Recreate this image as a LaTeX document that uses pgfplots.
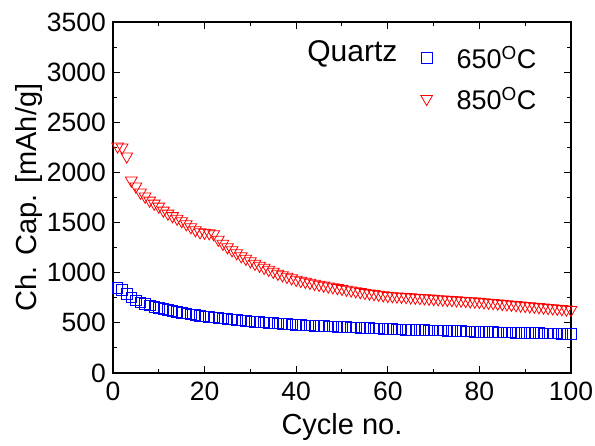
\documentclass[border=0pt]{standalone}
\usepackage{fontspec}
\setmainfont{Liberation Sans}
\usepackage{pgfplots}
\pgfplotsset{compat=1.18}
\usepackage{pgfplotstable}

\pgfplotstableread{
c v
1 850
2 830
3 790
4 755
5 725
6 705
7 690
8 675
9 662
10 650
11 640
12 630
13 620
14 610
15 602
16 594
17 586
18 578
19 570
20 563
21 558
22 553
23 548
24 543
25 538
26 533
27 528
28 524
29 520
30 516
31 512
32 508
33 504
34 500
35 497
36 494
37 491
38 488
39 485
40 482
41 479
42 476
43 474
44 472
45 470
46 468
47 466
48 464
49 462
50 460
51 458
52 456
53 454
54 452
55 450
56 448
57 446
58 444
59 442
60 440
61 438
62 436
63 434
64 432
65 430
66 429
67 428
68 427
69 426
70 425
71 424
72 423
73 422
74 421
75 420
76 418
77 416
78 414
79 412
80 410
81 409
82 408
83 407
84 406
85 405
86 404
87 403
88 402
89 401
90 400
91 399
92 398
93 397
94 396
95 395
96 394
97 393
98 392
99 391
100 390
}\blue

\pgfplotstableread{
c v
1 2260
2 2250
3 2160
4 1920
5 1860
6 1800
7 1760
8 1720
9 1690
10 1660
11 1620
12 1590
13 1565
14 1540
15 1515
16 1485
17 1455
18 1425
19 1405
20 1400
21 1395
22 1385
23 1330
24 1290
25 1255
26 1225
27 1195
28 1165
29 1140
30 1115
31 1090
32 1070
33 1050
34 1030
35 1010
36 990
37 975
38 960
39 945
40 930
41 920
42 910
43 900
44 890
45 880
46 872
47 864
48 856
49 848
50 840
51 832
52 824
53 816
54 808
55 800
56 794
57 788
58 782
59 776
60 770
61 767
62 764
63 761
64 758
65 755
66 752
67 749
68 746
69 743
70 740
71 737
72 734
73 731
74 728
75 725
76 722
77 719
78 716
79 713
80 710
81 706
82 702
83 698
84 694
85 690
86 686
87 682
88 678
89 674
90 670
91 666
92 662
93 658
94 654
95 650
96 646
97 642
98 638
99 634
100 630
}\red

\begin{document}
\begin{tikzpicture}
\useasboundingbox (-113pt,-73pt) rectangle (482pt,373pt);
\begin{axis}[
  at={(0,0)}, anchor=south west,
  width=458pt, height=351pt, scale only axis,
  xmin=0, xmax=100, ymin=0, ymax=3500,
  xtick={0,20,...,100}, ytick={0,500,...,3500},
  minor x tick num=1, minor y tick num=1,
  tick align=inside,
  major tick length=7pt, minor tick length=4pt,
  axis line style={line width=1.2pt},
  every tick/.style={black, line width=1pt},
  /pgf/number format/.cd, 1000 sep={}, assume math mode=true, /pgfplots/.cd,
  ticklabel style={font=\fontsize{26.5}{26.5}\selectfont, inner sep=0pt},
  yticklabel shift=7pt,
  xticklabel shift=9pt,
  xlabel={Cycle no.},
  ylabel={Ch. Cap. [mAh/g]},
  every axis x label/.style={at={(axis description cs:0.5,-0.1766)}, anchor=base, font=\fontsize{29}{29}\selectfont},
  every axis y label/.style={at={(axis description cs:-0.168,0.5)}, rotate=90, anchor=base, font=\fontsize{29}{29}\selectfont},
  legend style={draw=none, fill=none, font=\fontsize{27}{27}\selectfont,
    at={(axis cs:66.5,3300)}, anchor=north west, row sep=13pt,
    cells={anchor=west},
    /tikz/every odd column/.append style={column sep=22pt}},
  legend cell align=left,
]
\addplot[only marks, mark=square, mark size=5.3pt, blue, mark options={line width=0.8pt}] table[x=c,y=v] {\blue};
\addlegendentry{650\textsuperscript{O}C}
\addplot[only marks, mark=triangle, mark size=6.8pt, red, mark options={rotate=180, line width=0.8pt}] table[x=c,y=v] {\red};
\addlegendentry{850\textsuperscript{O}C}
\node[anchor=base west, font=\fontsize{30}{30}\selectfont, inner sep=0pt] at (axis cs:42.4,3110) {Quartz};
\end{axis}
\end{tikzpicture}
\end{document}
